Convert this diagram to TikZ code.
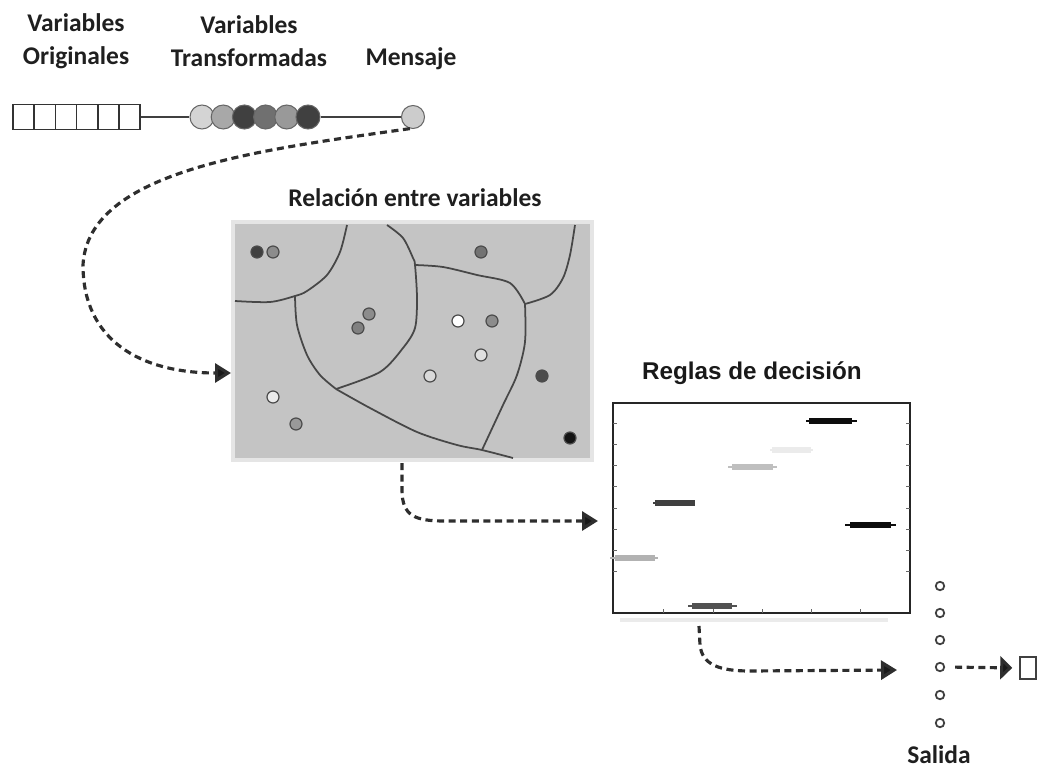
\documentclass[tikz,border=0pt]{standalone}
\usepackage{fontspec}
\setsansfont{Carlito}
\newfontfamily\arialfont{Liberation Sans}
\usetikzlibrary{arrows.meta}

\begin{document}
\begin{tikzpicture}[x=0.02cm,y=-0.02cm,
			lbl/.style={font=\sffamily\bfseries\fontsize{14.5}{18.7}\selectfont,text=black!88,align=center,inner sep=0pt},
			cell/.style={draw=black!80,fill=white,line width=0.8pt,minimum width=0.424cm,minimum height=0.5cm,inner sep=0pt},
			ball/.style={circle,draw=black!60,line width=0.6pt,minimum size=0.48cm,inner sep=0pt},
			link/.style={draw=black!75,line width=0.8pt},
			flow/.style={draw=black!82,line width=1.8pt,dash pattern=on 4pt off 2.6pt,-{Triangle[length=3.2mm,width=3.8mm,fill=black!90]}},
			border/.style={draw=black!85,line width=1pt},
			cut/.style={draw=black!72,line width=1pt},
			dot/.style={circle,draw=black!70,line width=0.7pt,minimum size=0.24cm,inner sep=0pt},
			tick/.style={draw=black!60,line width=0.5pt},
			outdot/.style={circle,draw=black!75,line width=1pt,minimum size=0.17cm,inner sep=0pt}]
			\useasboundingbox (0,0) rectangle (1052,781);
			% top row
			\node[lbl] (orig) at (76,41) {Variables\\Originales};
			\node[lbl] (trans) at (249,41) {Variables\\Transformadas};
			\node[lbl] (msg) at (411,59) {Mensaje};
			\foreach \i in {0,...,5}
			\node[cell] (c\i) at ({23.6+21.2*\i},117) {};
			\foreach \c [count=\i] in {black!17,black!34,black!75,black!56,black!40,black!75}
			\node[ball,fill=\c] (b\i) at ({202+21.2*(\i-1)},117) {};
			\node[ball,fill=black!20,minimum size=0.46cm] (mensaje) at (413,117) {};
			\draw[link] (c5.east) -- (b1.west);
			\draw[link] (b6.east) -- (mensaje.west);
			% relation panel
			\node[lbl] (reltitle) at (415,198) {Relación entre variables};
			\node[draw=black!10,line width=2.5pt,fill=black!23,minimum width=7.18cm,minimum height=4.76cm,inner sep=0pt] (panel) at (412.5,341) {};
			\draw[cut] plot[smooth] coordinates {(347,225) (340,252) (327,275) (307,291) (295,296) (270,302) (235,301)};
			\draw[cut] plot[smooth] coordinates {(295,296) (297,325) (307,355) (320,375) (336,389)};
			\draw[cut] plot[smooth] coordinates {(387,225) (403,238) (413,258) (415,265) (417,298) (415,328) (403,348) (380,372) (336,389)};
			\draw[cut] plot[smooth] coordinates {(415,265) (443,267) (477,275) (510,283) (525,304)};
			\draw[cut] plot[smooth] coordinates {(525,304) (550,295) (563,278) (570,255) (575,225)};
			\draw[cut] plot[smooth] coordinates {(525,304) (525,342) (517,375) (503,405) (482,450)};
			\draw[cut] plot[smooth] coordinates {(336,389) (370,408) (417,432) (457,445) (482,450) (513,458)};
			\foreach \px/\py/\c [count=\i] in {257/252/black!75,273/252/black!45,481/252/black!55,
				369/314/black!45,358/328/black!50,458/321/white,492/321/black!45,
				481/355/black!12,430/376/black!15,542/376/black!70,273/397/black!8,
				296/424/black!40,570/438/black!92}
			\node[dot,fill=\c] (d\i) at (\px,\py) {};
			% decision chart
			\node[font=\arialfont\bfseries\fontsize{13.8}{16}\selectfont,text=black!90,inner sep=0pt] (rtitle) at (752,373) {Reglas de decisión};
			\draw[draw=black!8,line width=2.5pt] (620,620) -- (888,620);
			\node[border,fill=white,minimum width=5.94cm,minimum height=4.2cm,inner sep=0pt] (chart) at (761.5,508) {};
			\foreach \y in {423,444,465,486,508,529,550,571} {
				\draw[tick] (613,\y) -- ++(4,0);
				\draw[tick] (910,\y) -- ++(-4,0);
			}
			\foreach \x in {663,713,762,811,860}
			\draw[tick] (\x,613) -- ++(0,-4);
			\foreach \a/\b/\s/\e/\y/\c in {610/658/615/655/558/black!30,653/695/655/695/503/black!75,
				688/737/692/732/606/black!68,728/777/732/773/467/black!25,770/813/772/811/450/black!8,
				806/857/809/852/421/black!95,845/896/850/891/525/black!95} {
				\draw[\c,line width=0.9pt] (\a,\y) -- (\b,\y);
				\draw[\c,line width=3.4pt] (\s,\y) -- (\e,\y);
			}
			% output
			\foreach \y [count=\i] in {586,613,640,667,695,723}
			\node[outdot] (o\i) at (940,\y) {};
			\node[draw=black!75,line width=0.9pt,fill=white,minimum width=0.32cm,minimum height=0.44cm,inner sep=0pt] (sq) at (1028,668) {};
			\node[lbl] (salida) at (939,755) {Salida};
			% flows
			\coordinate (in1) at (231,373);
			\coordinate (out1) at (402,463);
			\coordinate (in2) at (598,521);
			\coordinate (out2) at (699,626);
			\coordinate (in3) at (897,670);
			\draw[flow] (mensaje.-105) .. controls (260,150) and (88,170) .. (83,265)
			.. controls (83,340) and (140,373) .. (in1);
			\draw[flow] (out1) -- (402,490) .. controls (402,516) and (415,521) .. (445,521) -- (in2);
			\draw[flow] (out2) -- (700,645) .. controls (702,665) and (720,671) .. (750,671) -- (in3);
			\draw[flow,-{Triangle[length=2.4mm,width=4.6mm,fill=black!90]},shorten <=0.2cm,shorten >=0.14cm] (o4.east) -- (sq.west);
		\end{tikzpicture}
\end{document}
